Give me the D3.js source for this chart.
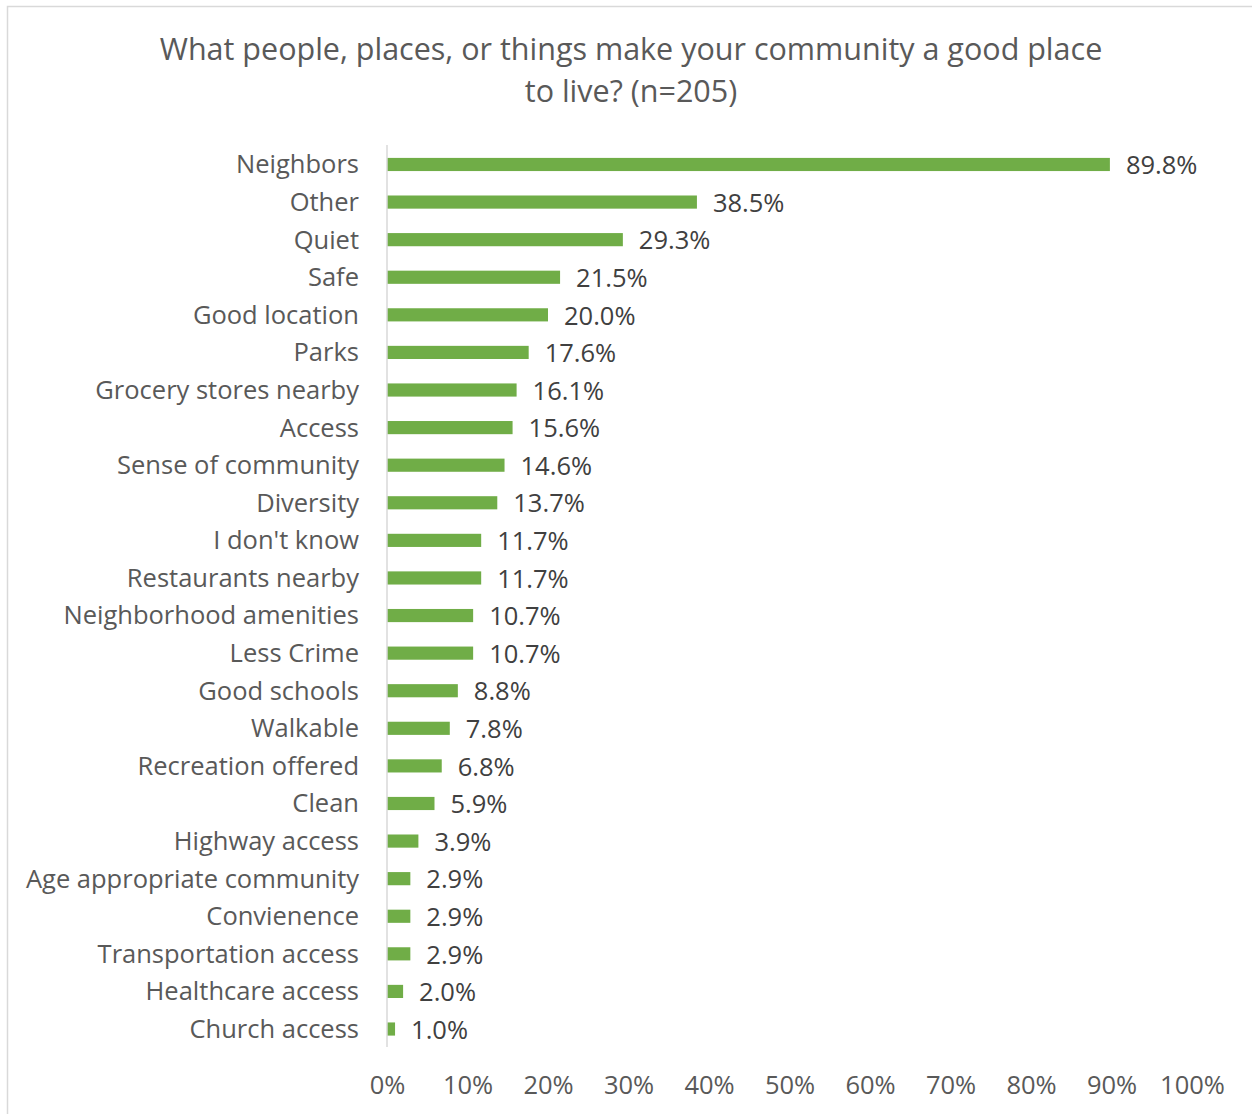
<!DOCTYPE html>
<html><head><meta charset="utf-8">
<script src="https://cdn.jsdelivr.net/npm/d3@7"></script>
<style>body{margin:0;background:#fff}svg{display:block}</style>
</head><body>
<svg id="c" width="1252" height="1114"></svg>
<script>
const categories = ["Neighbors","Other","Quiet","Safe","Good location","Parks","Grocery stores nearby","Access","Sense of community","Diversity","I don't know","Restaurants nearby","Neighborhood amenities","Less Crime","Good schools","Walkable","Recreation offered","Clean","Highway access","Age appropriate community","Convienence","Transportation access","Healthcare access","Church access"];
const values = [89.8,38.5,29.3,21.5,20.0,17.6,16.1,15.6,14.6,13.7,11.7,11.7,10.7,10.7,8.8,7.8,6.8,5.9,3.9,2.9,2.9,2.9,2.0,1.0];
const tickValues = [0,10,20,30,40,50,60,70,80,90,100];
const titleLines = ["What people, places, or things make your community a good place","to live? (n=205)"];

const svg = d3.select("#c");
const font = "'Open Sans', sans-serif";
svg.append("rect").attr("x",7.5).attr("y",6.5).attr("width",1260).attr("height",1120)
  .attr("fill","#fff").attr("stroke","#d9d9d9").attr("stroke-width",1.5);

const x = d3.scaleLinear().domain([0,100]).range([387,1192]);
const y = d3.scaleBand().domain(categories).range([145.5,1048]).paddingInner(0.65).paddingOuter(0.33);

svg.selectAll("text.title").data(titleLines).join("text")
  .attr("x",631).attr("y",(d,i)=>60+i*42).attr("text-anchor","middle")
  .attr("font-family",font).attr("font-size",30.5).attr("fill","#595959").text(d=>d);

svg.selectAll("rect.bar").data(values).join("rect").attr("class","bar")
  .attr("x",x(0)).attr("y",(d,i)=>y(categories[i]))
  .attr("width",d=>x(d)-x(0)).attr("height",y.bandwidth()).attr("fill","#70ad47");

svg.append("line").attr("x1",x(0)).attr("x2",x(0)).attr("y1",145).attr("y2",1047)
  .attr("stroke","#d9d9d9").attr("stroke-width",1.5);

svg.selectAll("text.cat").data(categories).join("text")
  .attr("x",359).attr("y",d=>y(d)+y.bandwidth()/2).attr("dy","0.35em")
  .attr("text-anchor","end").attr("font-family",font).attr("font-size",25.5).attr("fill","#595959").text(d=>d);

svg.selectAll("text.val").data(values).join("text")
  .attr("x",d=>x(d)+16).attr("y",(d,i)=>y(categories[i])+y.bandwidth()/2).attr("dy","0.38em")
  .attr("font-family",font).attr("font-size",25.5).attr("fill","#404040").text(d=>d.toFixed(1)+"%");

const axis = d3.axisBottom(x).tickValues(tickValues).tickSize(0).tickPadding(0).tickFormat(d=>d+"%");
const g = svg.append("g").attr("transform","translate(0,1094)").call(axis);
g.select(".domain").remove();
g.selectAll("text").attr("dy",0).attr("font-family",font).attr("font-size",25.5).attr("fill","#595959");
</script>
</body></html>
